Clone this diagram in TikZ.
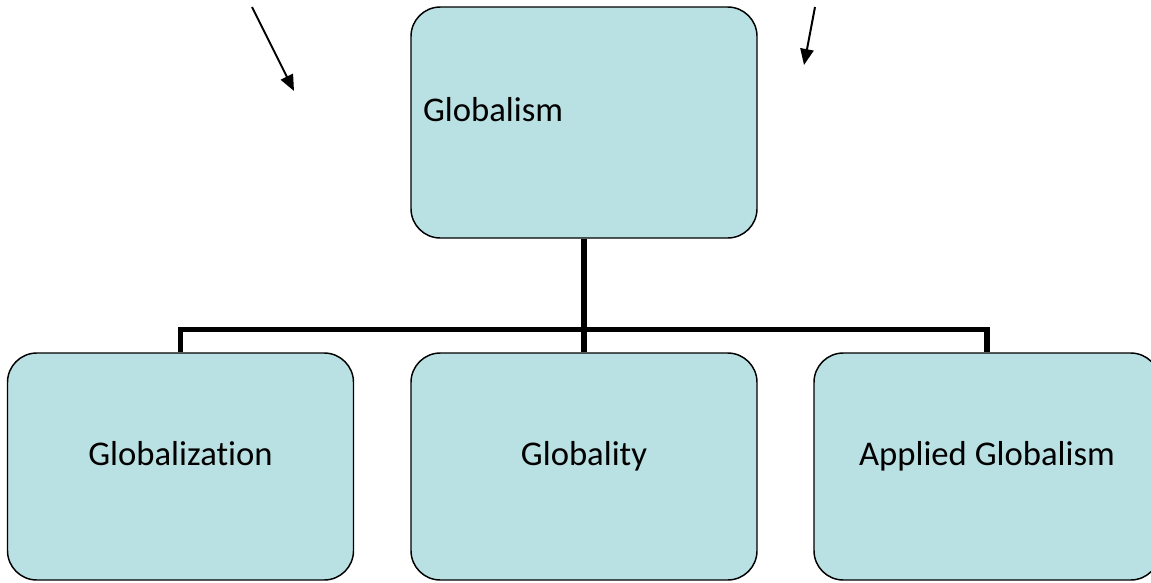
\documentclass[tikz,border=0pt]{standalone}
\usepackage{fontspec}
\setmainfont{Carlito}[Ligatures=NoCommon]
\usetikzlibrary{arrows.meta}
\definecolor{boxfill}{RGB}{185,224,227}

\begin{document}
\begin{tikzpicture}[x=0.75pt, y=-0.75pt,
  box/.style={draw, line width=1.1pt, fill=boxfill, rounded corners=22pt,
    minimum width=259.5pt, minimum height=170.25pt, inner sep=0pt,
    font=\fontsize{26}{31}\selectfont, text height=.7em, text depth=.85em},
  link/.style={line width=4.2pt},
  pointer/.style={line width=1.5pt, -{Triangle[length=12pt, width=10pt]}}]
  \useasboundingbox (0,0) rectangle (1151,582);
  \node[box, minimum height=173.25pt, align=left, text width=241.5pt, inner xsep=9pt] (globalism) at (584,122.5) {Globalism};
  \node[box] (globalization) at (180.5,466.5) {Globalization};
  \node[box] (globality) at (584,466.5) {Globality};
  \node[box] (applied) at (987,466.5) {Applied Globalism};
  \coordinate (bar) at (584,329.5);
  \coordinate (a1) at (252,7);
  \coordinate (a1tip) at (294,91);
  \coordinate (a2) at (815,7);
  \coordinate (a2tip) at (804,65);
  % Draw the hierarchy lines
  \draw[link] (globalism) -- (globality);
  \draw[link] (globalization.north) |- (bar) -| (applied.north);
  \draw[pointer] (a1) -- (a1tip);
  \draw[pointer] (a2) -- (a2tip);
\end{tikzpicture}
\end{document}
